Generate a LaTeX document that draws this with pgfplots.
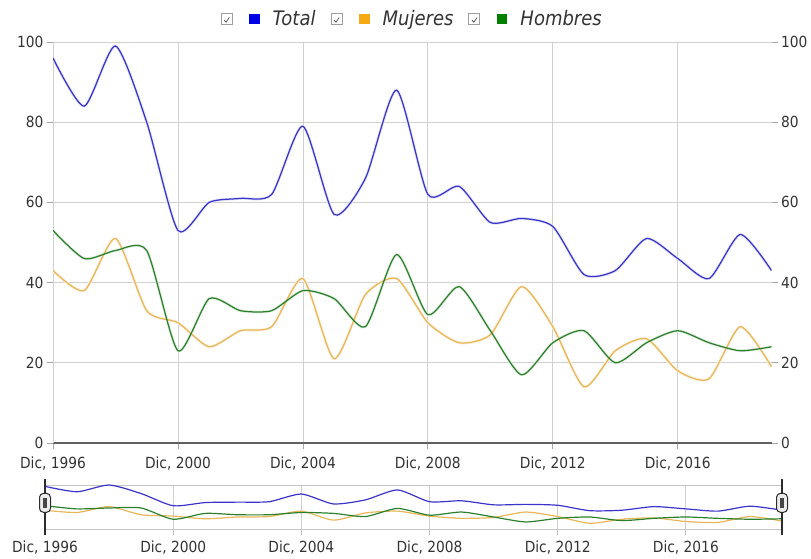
\documentclass[border=0pt]{standalone}
\usepackage{pgfplots}
\usepackage{pgfplotstable}
\pgfplotsset{compat=1.18}
\usepackage{fontspec}
\setmainfont{DejaVu Sans}[FakeStretch=0.9]
\definecolor{cTot}{RGB}{58,52,200}
\definecolor{cMuj}{RGB}{233,182,88}
\definecolor{cHom}{RGB}{44,128,44}
\definecolor{lTot}{RGB}{0,0,230}
\definecolor{lMuj}{RGB}{245,170,20}
\definecolor{lHom}{RGB}{0,128,0}
\definecolor{txt}{RGB}{51,51,51}
\definecolor{gridc}{RGB}{208,208,208}

\pgfplotstableread{
year total muj hom
1996 96 43 53
1997 84 38 46
1998 99 51 48
1999 80 33 48
2000 53 30 23
2001 60 24 36
2002 61 28 33
2003 62 29 33
2004 79 41 38
2005 57 21 36
2006 66 37 29
2007 88 41 47
2008 62 30 32
2009 64 25 39
2010 55 27 28
2011 56 39 17
2012 54 29 25
2013 42 14 28
2014 43 23 20
2015 51 26 25
2016 46 18 28
2017 41 16 25
2018 52 29 23
2019 43 19 24
}\datatable

\pgfplotsset{
  cbox/.style={legend image code/.code={
    \draw[draw=gray!75, line width=0.8pt, fill=white] (0pt,-5.5pt) rectangle (11pt,5.5pt);
    \draw[draw=gray!60!black, line width=0.7pt] (3pt,-1pt) -- (5pt,-3.2pt) -- (8.2pt,1.5pt);
    \fill[#1] (29pt,-4.5pt) rectangle (38pt,4.5pt);
  }},
  tlab/.style={font=\fontsize{15.3}{17}\selectfont, text=txt},
}

\begin{document}
\begin{tikzpicture}
\useasboundingbox (0,0) rectangle (811pt,558pt);

% right-hand y labels
\begin{axis}[
  at={(53pt,115pt)}, anchor=south west,
  width=718.5pt, height=401pt, scale only axis,
  xmin=1996, xmax=2019, ymin=0, ymax=100,
  axis y line*=right, axis x line=none,
  axis line style={draw=none},
  ytick={0,20,40,60,80,100},
  tick align=outside, major tick length=6pt,
  tick style={draw=gray!70, line width=0.8pt},
  yticklabel style={tlab},
  /pgf/number format/assume math mode=true,
]
\addplot[draw=none, forget plot] coordinates {(1996,0)};
\end{axis}

% main chart
\begin{axis}[
  at={(53pt,115pt)}, anchor=south west,
  width=718.5pt, height=401pt, scale only axis,
  xmin=1996, xmax=2019, ymin=0, ymax=100,
  axis x line*=bottom, axis y line*=left,
  axis line style={-},
  x axis line style={draw=gray!75!black, line width=1.2pt},
  y axis line style={draw=gridc, line width=0.8pt},
  xtick={1996,2000,2004,2008,2012,2016},
  xticklabels={{Dic, 1996},{Dic, 2000},{Dic, 2004},{Dic, 2008},{Dic, 2012},{Dic, 2016}},
  ytick={0,20,40,60,80,100},
  grid=major, major grid style={draw=gridc, line width=0.8pt},
  tick align=outside, major tick length=6pt,
  tick style={draw=gray!70, line width=0.8pt},
  ticklabel style={tlab},
  xticklabel style={yshift=-4pt},
  /pgf/number format/assume math mode=true,
  legend columns=3,
  legend style={at={(0.5,1)}, anchor=center, yshift=23pt, draw=none, fill=none,
    inner sep=0pt, column sep=11pt,
    /tikz/every even column/.append style={column sep=13pt},
    font=\fontsize{20}{24}\selectfont\itshape, text=txt},
]
\addplot[cTot!12, line width=3pt, smooth, tension=0.4, forget plot] table[x=year, y=total] {\datatable};
\addplot[cMuj!18, line width=3pt, smooth, tension=0.4, forget plot] table[x=year, y=muj] {\datatable};
\addplot[cHom!12, line width=3pt, smooth, tension=0.4, forget plot] table[x=year, y=hom] {\datatable};
\addplot[cTot, line width=1.25pt, smooth, tension=0.4, cbox=lTot] table[x=year, y=total] {\datatable};
\addlegendentry{Total}
\addplot[cMuj, line width=1.25pt, smooth, tension=0.4, cbox=lMuj] table[x=year, y=muj] {\datatable};
\addlegendentry{Mujeres}
\addplot[cHom, line width=1.25pt, smooth, tension=0.4, cbox=lHom] table[x=year, y=hom] {\datatable};
\addlegendentry{Hombres}
\end{axis}

% navigator
\begin{axis}[
  at={(45pt,28.4pt)}, anchor=south west,
  width=737pt, height=44.6pt, scale only axis,
  xmin=1996, xmax=2019, ymin=0, ymax=99,
  axis x line=box, axis y line=none,
  axis line style={-, draw=gray!45, line width=0.8pt},
  xtick={1996,2000,2004,2008,2012,2016},
  xticklabels={{Dic, 1996},{Dic, 2000},{Dic, 2004},{Dic, 2008},{Dic, 2012},{Dic, 2016}},
  xtick pos=bottom,
  xmajorgrids, major grid style={draw=gridc, line width=0.8pt},
  tick align=outside, major tick length=5pt,
  tick style={draw=gray!50, line width=0.8pt},
  ticklabel style={tlab},
  xticklabel style={yshift=-3pt},
  clip=false,
  after end axis/.code={
    \foreach \rx in {0,1}{
      \draw[draw=gray!35!black, line width=1.8pt] (rel axis cs:\rx,-0.12) -- (rel axis cs:\rx,1.14);
      \draw[draw=gray!35!black, fill=gray!15, line width=1pt, rounded corners=4pt]
        ([xshift=-5.5pt,yshift=-9.5pt]rel axis cs:\rx,0.6) rectangle ([xshift=5.5pt,yshift=9.5pt]rel axis cs:\rx,0.6);
      \fill[gray!55!black] ([xshift=-1.8pt,yshift=-5pt]rel axis cs:\rx,0.6) rectangle ([xshift=1.8pt,yshift=5pt]rel axis cs:\rx,0.6);
    }
  },
]
\addplot[cTot, line width=1.2pt, smooth, tension=0.4] table[x=year, y=total] {\datatable};
\addplot[cMuj, line width=1.2pt, smooth, tension=0.4] table[x=year, y=muj] {\datatable};
\addplot[cHom, line width=1.2pt, smooth, tension=0.4] table[x=year, y=hom] {\datatable};
\end{axis}
\end{tikzpicture}
\end{document}
